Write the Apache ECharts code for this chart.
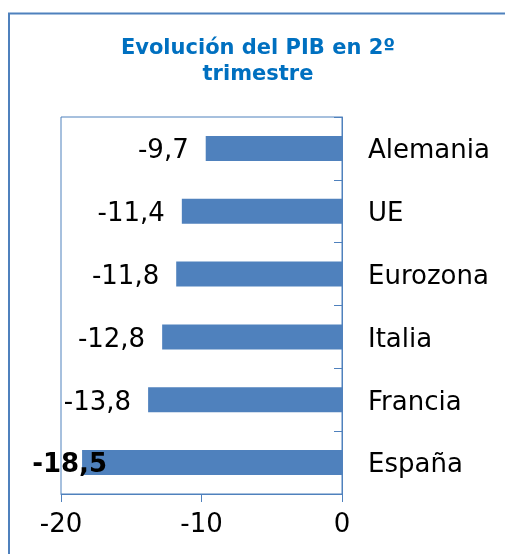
<!DOCTYPE html>
<html>
<head>
<meta charset="utf-8">
<script src="https://cdn.jsdelivr.net/npm/echarts@6/dist/echarts.min.js"></script>
<style>
  html, body { margin: 0; padding: 0; background: #fff; }
  #chart { width: 505px; height: 554px; }
</style>
</head>
<body>
<div id="chart"></div>
<script>
const countries = ["Alemania", "UE", "Eurozona", "Italia", "Francia", "España"];
const pibValues = [-9.7, -11.4, -11.8, -12.8, -13.8, -18.5];
const axisTicks = [-20, -10, 0];

const blue = "#4F81BD";
const font = "DejaVu Sans";

const chart = echarts.init(document.getElementById("chart"));

const fmt = (v) => String(v).replace(".", ",");

const barData = pibValues.map((v, i) => {
  // Spain's label is bold and pushed inward so it stays inside the frame
  if (countries[i] === "España") {
    return {
      value: v,
      label: { fontWeight: "bold", offset: [42, 3] },
    };
  }
  return v;
});

const option = {
  animation: false,
  title: {
    text: "Evolución del PIB en 2º\ntrimestre",
    left: 258,
    top: 36,
    padding: 0,
    textAlign: "center",
    textStyle: {
      fontFamily: font,
      fontSize: 21,
      fontWeight: "bold",
      color: "#0070C0",
      lineHeight: 26,
    },
  },
  graphic: [
    {
      type: "rect",
      shape: { x: 9, y: 13.5, width: 600, height: 600 },
      style: { fill: "none", stroke: blue, lineWidth: 2 },
      silent: true,
    },
  ],
  grid: {
    left: 61,
    right: 163,
    top: 117,
    bottom: 60,
    show: true,
    borderColor: blue,
    borderWidth: 1,
  },
  xAxis: {
    type: "value",
    min: axisTicks[0],
    max: axisTicks[axisTicks.length - 1],
    interval: 10,
    axisLine: { show: true, onZero: false, lineStyle: { color: blue } },
    axisTick: { show: true, length: 8, lineStyle: { color: blue } },
    splitLine: { show: false },
    axisLabel: {
      margin: 18,
      fontFamily: font,
      fontSize: 26,
      color: "#000",
    },
  },
  yAxis: {
    type: "category",
    data: countries,
    inverse: true,
    position: "right",
    axisLine: { show: true, onZero: false, lineStyle: { color: blue } },
    axisTick: { show: true, inside: true, length: 8, lineStyle: { color: blue } },
    axisLabel: {
      margin: 26,
      formatter: (v) => "{c|" + v + "}",
      rich: {
        c: {
          fontFamily: font,
          fontSize: 26,
          color: "#000",
          padding: [6, 0, 0, 0],
        },
      },
    },
  },
  series: [
    {
      type: "bar",
      data: barData,
      barWidth: 25,
      itemStyle: { color: blue },
      label: {
        show: true,
        position: "left",
        distance: 17,
        offset: [0, 3],
        fontFamily: font,
        fontSize: 26,
        color: "#000",
        formatter: (p) => fmt(p.value),
      },
    },
  ],
};

chart.setOption(option);
</script>
</body>
</html>
